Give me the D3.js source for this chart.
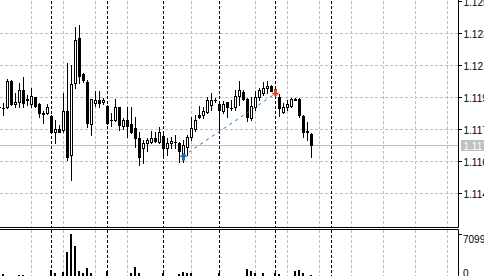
<!DOCTYPE html>
<html>
<head>
<meta charset="utf-8">
<script src="https://cdn.jsdelivr.net/npm/d3@7"></script>
<style>
	body { margin: 0; background: #fff; }
	svg { display: block; font-family: 'Liberation Sans', Arial, sans-serif; font-size: 10px; }
</style>
</head>
<body>
<div id="chart"></div>
<script>
// candles, oldest first (the first one is cut by the left edge)
const opens = [1.11924, 1.11918, 1.11922, 1.12074, 1.1194, 1.11951, 1.12022, 1.11969, 1.1194, 1.1198, 1.1194, 1.11888, 1.11888, 1.11872, 1.11781, 1.11795, 1.11791, 1.11901, 1.11647, 1.12065, 1.12321, 1.12115, 1.1207, 1.11824, 1.11949, 1.11965, 1.11953, 1.1193, 1.11849, 1.11849, 1.11922, 1.11816, 1.11849, 1.11826, 1.11801, 1.11747, 1.11685, 1.11714, 1.11724, 1.11747, 1.11724, 1.11756, 1.11685, 1.11714, 1.11724, 1.11714, 1.11647, 1.11695, 1.11752, 1.11795, 1.11878, 1.11878, 1.11897, 1.11936, 1.11965, 1.1194, 1.11901, 1.11951, 1.1192, 1.11926, 1.11989, 1.12013, 1.1197, 1.11859, 1.11926, 1.1198, 1.12003, 1.12032, 1.12045, 1.12028, 1.11984, 1.11897, 1.11922, 1.1193, 1.11972, 1.11969, 1.11872, 1.11785, 1.11768];
const highs = [1.11936, 1.11945, 1.12084, 1.1208, 1.12003, 1.12061, 1.12096, 1.11993, 1.12032, 1.11984, 1.11949, 1.11901, 1.1194, 1.11878, 1.11849, 1.1182, 1.12003, 1.1218, 1.12167, 1.12388, 1.12398, 1.12122, 1.1208, 1.11969, 1.12017, 1.12017, 1.11974, 1.11936, 1.11888, 1.11969, 1.11926, 1.11859, 1.11922, 1.11922, 1.11865, 1.11781, 1.11733, 1.11747, 1.11787, 1.11781, 1.1181, 1.11776, 1.11743, 1.11752, 1.11762, 1.11724, 1.11733, 1.11762, 1.11868, 1.11878, 1.1193, 1.11922, 1.1198, 1.12003, 1.11974, 1.11941, 1.11959, 1.11955, 1.11965, 1.12022, 1.12074, 1.12022, 1.11978, 1.1198, 1.12018, 1.12032, 1.1207, 1.12074, 1.12051, 1.12036, 1.11999, 1.11945, 1.11965, 1.11974, 1.11978, 1.11978, 1.11878, 1.11839, 1.11776];
const lows = [1.11913, 1.11878, 1.1192, 1.11936, 1.11926, 1.11926, 1.11926, 1.11936, 1.11926, 1.11926, 1.11868, 1.11833, 1.11882, 1.11772, 1.11714, 1.1178, 1.11781, 1.11618, 1.11502, 1.12032, 1.12061, 1.1207, 1.1181, 1.11762, 1.1193, 1.11926, 1.11941, 1.11826, 1.11814, 1.11845, 1.11791, 1.11795, 1.11752, 1.11776, 1.11695, 1.11589, 1.11599, 1.11672, 1.11714, 1.11724, 1.11718, 1.11647, 1.11647, 1.11685, 1.11685, 1.11608, 1.11606, 1.11647, 1.11733, 1.11787, 1.11859, 1.11859, 1.11888, 1.11907, 1.11953, 1.11791, 1.11888, 1.11868, 1.11907, 1.11907, 1.11936, 1.11965, 1.11845, 1.11849, 1.11907, 1.11965, 1.11993, 1.12003, 1.12017, 1.11999, 1.11872, 1.11891, 1.11907, 1.11924, 1.11962, 1.11868, 1.11752, 1.11733, 1.11637];
const closes = [1.11922, 1.11916, 1.12074, 1.1194, 1.11955, 1.12022, 1.11949, 1.11967, 1.11989, 1.1193, 1.11888, 1.11886, 1.11926, 1.11778, 1.11795, 1.11781, 1.11901, 1.11637, 1.12055, 1.12311, 1.12103, 1.1208, 1.11833, 1.11969, 1.11965, 1.11949, 1.11965, 1.11833, 1.11847, 1.11922, 1.1182, 1.11849, 1.11814, 1.11781, 1.11743, 1.11637, 1.11718, 1.11733, 1.11747, 1.11729, 1.11781, 1.11685, 1.11714, 1.11728, 1.11722, 1.11672, 1.11704, 1.11752, 1.11801, 1.11849, 1.11868, 1.11901, 1.11965, 1.11965, 1.11963, 1.11907, 1.1194, 1.11926, 1.11918, 1.11989, 1.12022, 1.1197, 1.11865, 1.1193, 1.1198, 1.12022, 1.12036, 1.12045, 1.12018, 1.12005, 1.11917, 1.11926, 1.11941, 1.11969, 1.11965, 1.11878, 1.11781, 1.11778, 1.11705];
const volumes = [300, 650, 250, 250, 200, 490, 490, 200, 250, 200, 250, 200, 250, 1300, 760, 250, 920, 4260, 7099, 5180, 1180, 760, 1570, 760, 300, 250, 200, 1130, 250, 300, 250, 200, 300, 760, 1730, 860, 300, 250, 200, 250, 300, 760, 300, 250, 200, 650, 920, 760, 860, 300, 250, 200, 300, 250, 200, 760, 300, 250, 200, 300, 320, 300, 1410, 1180, 760, 250, 760, 300, 250, 860, 650, 300, 250, 300, 1180, 1300, 760, 300, 490];

const priceTicks = [1.12535, 1.1235, 1.12165, 1.1198, 1.11795, 1.1161, 1.11425];
const volumeTicks = [7099, 0];
// day separators and grid lines, as bar numbers
const separatorBars = [13, 27, 41, 55, 69, 83];
const gridBars = [8, 16, 24, 32, 48, 64, 72, 80, 88, 96, 104, 112];
// buy and sell of the closed trade
const tradeBars = [46, 69];
const tradePrices = [1.1164, 1.12];

const width = 484,
	height = 276,
	plotRight = 458,
	mainBottom = 227,
	volTop = 229;

const svg = d3
	.select('#chart')
	.append('svg')
	.attr('width', width)
	.attr('height', height);

svg.append('rect').attr('width', width).attr('height', height).attr('fill', '#fff');

const x = d3.scaleLinear().domain([0, 115]).range([-1, 459]);
const y = d3.scaleLinear().domain([1.11425, 1.12535]).range([193.3, 1.3]);
const yv = d3.scaleLinear().domain([0, 7099]).range([278, 234.3]);

const px = (v) => Math.round(v) + 0.5;

// vertical grid
const drawVerticals = (bars, color, dash) => {
	[[0, mainBottom], [volTop, height]].forEach(([y1, y2]) => {
		svg
			.append('g')
			.selectAll('line')
			.data(bars)
			.join('line')
			.attr('x1', (d) => px(x(d)))
			.attr('x2', (d) => px(x(d)))
			.attr('y1', y1 + 1)
			.attr('y2', y2)
			.attr('stroke', color)
			.attr('stroke-dasharray', dash);
	});
};
drawVerticals(gridBars, '#c0c0c0', '3,2');

// horizontal grid
svg
	.append('g')
	.selectAll('line')
	.data(priceTicks.filter((d) => y(d) > 5))
	.join('line')
	.attr('x1', 0)
	.attr('x2', plotRight)
	.attr('y1', (d) => px(y(d)))
	.attr('y2', (d) => px(y(d)))
	.attr('stroke', '#c0c0c0')
	.attr('stroke-dasharray', '3,2');

drawVerticals(separatorBars, '#000', '3,2');

// last price line
const last = closes[closes.length - 1];
svg
	.append('line')
	.attr('x1', 0)
	.attr('x2', plotRight)
	.attr('y1', px(y(last)))
	.attr('y2', px(y(last)))
	.attr('stroke', '#c0c0c0');

const bars = opens.map((o, i) => ({ i, o, h: highs[i], l: lows[i], c: closes[i], v: volumes[i] }));

// wicks
svg
	.append('g')
	.selectAll('rect')
	.data(bars)
	.join('rect')
	.attr('x', (d) => Math.round(x(d.i)))
	.attr('y', (d) => Math.round(y(d.h)))
	.attr('width', 1)
	.attr('height', (d) => Math.round(y(d.l)) - Math.round(y(d.h)) + 1)
	.attr('fill', '#000');

// bodies
svg
	.append('g')
	.selectAll('rect')
	.data(bars.filter((d) => d.c <= d.o))
	.join('rect')
	.attr('x', (d) => Math.round(x(d.i)) - 1)
	.attr('y', (d) => Math.round(y(d.o)))
	.attr('width', 3)
	.attr('height', (d) => Math.round(y(d.c)) - Math.round(y(d.o)) + 1)
	.attr('fill', '#000');

svg
	.append('g')
	.selectAll('rect')
	.data(bars.filter((d) => d.c > d.o))
	.join('rect')
	.attr('x', (d) => Math.round(x(d.i)) - 0.5)
	.attr('y', (d) => Math.round(y(d.c)) + 0.5)
	.attr('width', 2)
	.attr('height', (d) => Math.round(y(d.o)) - Math.round(y(d.c)))
	.attr('fill', '#fff')
	.attr('stroke', '#000');

// trade line and arrows
svg
	.append('line')
	.attr('x1', x(tradeBars[0]))
	.attr('y1', y(tradePrices[0]))
	.attr('x2', x(tradeBars[1]))
	.attr('y2', y(tradePrices[1]))
	.attr('stroke', '#1f6db4')
	.attr('stroke-dasharray', '3,4');

const upArrow = 'M0,-4L4,0L1.5,0L1.5,3.5L-1.5,3.5L-1.5,0L-4,0Z';
const downArrow = 'M0,4L4,0L1.5,0L1.5,-3.5L-1.5,-3.5L-1.5,0L-4,0Z';
svg
	.append('path')
	.attr('d', upArrow)
	.attr('transform', `translate(${x(tradeBars[0]) + 0.5},${y(tradePrices[0]) + 1})`)
	.attr('fill', '#1f6db4');
svg
	.append('path')
	.attr('d', downArrow)
	.attr('transform', `translate(${x(tradeBars[1]) + 0.5},${y(tradePrices[1]) - 1})`)
	.attr('fill', '#e8461c');

// volume histogram
svg
	.append('g')
	.selectAll('rect')
	.data(bars)
	.join('rect')
	.attr('x', (d) => Math.round(x(d.i)) - 1)
	.attr('y', (d) => Math.round(yv(d.v)))
	.attr('width', 2)
	.attr('height', (d) => Math.max(0, 278 - Math.round(yv(d.v))))
	.attr('fill', '#000');

// clear the price scale area
svg
	.append('rect')
	.attr('x', plotRight)
	.attr('y', 0)
	.attr('width', width - plotRight)
	.attr('height', height)
	.attr('fill', '#fff');

// frames
svg
	.append('path')
	.attr('d', `M0,${mainBottom + 0.5}H${plotRight + 0.5}V0M0,${volTop + 0.5}H${plotRight + 0.5}V${height}`)
	.attr('fill', 'none')
	.attr('stroke', '#000');

// price scale
const priceAxis = svg.append('g');
priceAxis
	.selectAll('line')
	.data(priceTicks)
	.join('line')
	.attr('x1', plotRight)
	.attr('x2', plotRight + 4)
	.attr('y1', (d) => px(y(d)))
	.attr('y2', (d) => px(y(d)))
	.attr('stroke', '#000');
priceAxis
	.selectAll('text')
	.data(priceTicks)
	.join('text')
	.attr('x', plotRight + 5.5)
	.attr('y', (d) => Math.round(y(d)) + 4.5)
	.attr('fill', '#000')
	.text((d) => d.toFixed(5));

// last price label
svg
	.append('rect')
	.attr('x', plotRight + 3)
	.attr('y', Math.round(y(last)) - 5)
	.attr('width', width - plotRight - 3)
	.attr('height', 11)
	.attr('fill', '#c0c0c0');
svg
	.append('text')
	.attr('x', plotRight + 5.5)
	.attr('y', Math.round(y(last)) + 4.5)
	.attr('fill', '#fff')
	.text(last.toFixed(5));

// volume scale
svg
	.append('line')
	.attr('x1', plotRight)
	.attr('x2', plotRight + 4)
	.attr('y1', px(yv(volumeTicks[0])))
	.attr('y2', px(yv(volumeTicks[0])))
	.attr('stroke', '#000');
svg
	.selectAll('.vlabel')
	.data(volumeTicks)
	.join('text')
	.attr('class', 'vlabel')
	.attr('x', plotRight + 5)
	.attr('y', (d) => (d > 0 ? Math.round(yv(d)) + 8.5 : Math.round(yv(d)) - 1.5))
	.attr('fill', '#000')
	.text((d) => d);
</script>
</body>
</html>
